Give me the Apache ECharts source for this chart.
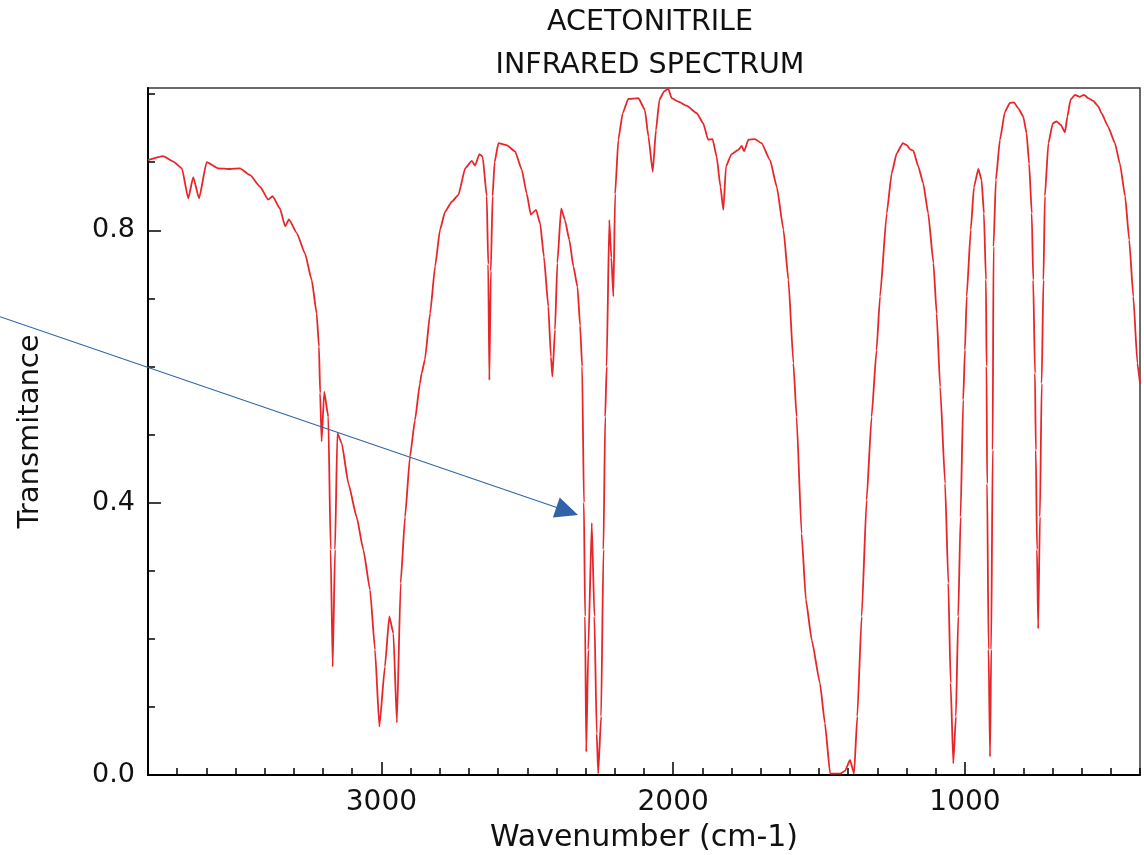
<!DOCTYPE html>
<html>
<head>
<meta charset="utf-8">
<script src="https://cdn.jsdelivr.net/npm/echarts@6/dist/echarts.min.js"></script>
<style>
html,body{margin:0;padding:0;background:#fff;}
#chart{width:1144px;height:855px;}
</style>
</head>
<body>
<div id="chart"></div>
<script>
// Wavenumber (cm-1) and transmittance
const wavenumbers = [3800,3748,3713,3684,3662,3645,3625,3599,3559,3519,3485,3450,3416,3388,3373,3348,3330,3317,3290,3262,3239,3222,3214,3210,3205,3196,3182,3174,3167,3159,3151,3136,3113,3085,3062,3039,3022,3007,2988,2973,2959,2947,2934,2919,2902,2885,2868,2862,2851,2833,2816,2799,2782,2759,2736,2713,2690,2679,2664,2653,2639,2634,2630,2625,2619,2612,2599,2571,2542,2519,2502,2488,2470,2456,2443,2428,2419,2414,2405,2397,2384,2371,2356,2342,2328,2319,2312,2306,2302,2298,2291,2279,2270,2262,2257,2247,2239,2233,2228,2219,2212,2205,2199,2188,2173,2154,2119,2097,2085,2070,2059,2047,2031,2017,2005,1982,1954,1919,1897,1880,1865,1851,1838,1828,1819,1800,1777,1765,1757,1742,1720,1697,1668,1645,1622,1605,1588,1577,1560,1545,1525,1497,1480,1462,1428,1411,1394,1380,1369,1354,1337,1320,1303,1291,1268,1251,1234,1213,1199,1188,1177,1160,1143,1126,1108,1097,1085,1068,1057,1049,1040,1031,1023,1015,1006,1000,994,980,969,954,943,935,928,926,924,919,914,910,905,902,894,880,863,846,832,817,800,789,780,771,766,760,757,753,749,743,737,731,726,714,699,686,672,657,649,638,623,606,592,577,560,543,532,509,486,469,451,437,423,409,400];
const transmittance = [0.903,0.909,0.901,0.891,0.847,0.878,0.847,0.900,0.891,0.890,0.891,0.881,0.864,0.845,0.850,0.832,0.806,0.816,0.796,0.766,0.727,0.678,0.629,0.561,0.490,0.563,0.526,0.331,0.159,0.331,0.502,0.487,0.428,0.379,0.331,0.272,0.184,0.071,0.159,0.233,0.208,0.077,0.282,0.379,0.468,0.521,0.575,0.590,0.610,0.678,0.747,0.801,0.827,0.842,0.852,0.891,0.902,0.895,0.912,0.908,0.850,0.750,0.580,0.740,0.850,0.900,0.928,0.925,0.916,0.889,0.854,0.823,0.830,0.810,0.761,0.688,0.614,0.585,0.654,0.752,0.832,0.815,0.786,0.747,0.717,0.660,0.600,0.400,0.233,0.034,0.184,0.370,0.233,0.061,0.002,0.086,0.331,0.526,0.600,0.815,0.760,0.703,0.853,0.933,0.972,0.993,0.994,0.977,0.938,0.886,0.947,0.992,1.004,1.008,0.994,0.989,0.983,0.972,0.957,0.933,0.934,0.908,0.864,0.830,0.894,0.912,0.918,0.924,0.916,0.933,0.934,0.928,0.903,0.864,0.801,0.727,0.605,0.526,0.355,0.257,0.198,0.135,0.076,0.002,0.002,0.006,0.022,0.002,0.086,0.233,0.404,0.526,0.624,0.703,0.825,0.884,0.913,0.928,0.925,0.919,0.917,0.894,0.869,0.825,0.752,0.678,0.570,0.428,0.282,0.135,0.017,0.086,0.233,0.379,0.551,0.624,0.703,0.801,0.864,0.890,0.874,0.825,0.727,0.600,0.428,0.184,0.027,0.184,0.477,0.776,0.874,0.933,0.974,0.987,0.988,0.979,0.967,0.943,0.898,0.825,0.727,0.590,0.477,0.331,0.215,0.379,0.575,0.727,0.850,0.928,0.957,0.960,0.955,0.944,0.967,0.992,0.999,0.996,0.999,0.994,0.990,0.982,0.972,0.952,0.928,0.898,0.850,0.786,0.703,0.605,0.575];

const xMajorTicks = [1000, 2000, 3000];
const yMajorTicks = [0, 0.4, 0.8];
const yMinorTicks = [0, 0.1, 0.2, 0.3, 0.4, 0.5, 0.6, 0.7, 0.8, 0.9, 1.0];
const titleLines = ['ACETONITRILE', 'INFRARED SPECTRUM'];
const xName = 'Wavenumber (cm-1)';
const yName = 'Transmitance';
// annotation arrow, in data coordinates [wavenumber, transmittance]
const arrowFrom = [4307, 0.673];
const arrowTo = [2326, 0.382];

const FONT = 'DejaVu Sans';
const X_MIN = 400, X_MAX = 3800, Y_MIN = 0, Y_MAX = 1.009;

const chart = echarts.init(document.getElementById('chart'), null, {renderer: 'canvas'});
const seriesData = wavenumbers.map((w, i) => [w, transmittance[i]]);

const option = {
  animation: false,
  backgroundColor: '#ffffff',
  title: {
    text: titleLines.join('\n'),
    left: 645,
    top: -4,
    textAlign: 'center',
    textStyle: {fontFamily: FONT, fontSize: 28.5, fontWeight: 'normal', color: '#111', lineHeight: 43}
  },
  grid: {left: 148, right: 4, top: 88, bottom: 80, containLabel: false, outerBoundsMode: 'none',
    show: true, borderColor: '#3a3a3a', borderWidth: 1.5, backgroundColor: 'transparent'},
  xAxis: [{
    type: 'value', inverse: true, min: X_MIN, max: X_MAX, position: 'bottom',
    name: xName, nameLocation: 'middle', nameGap: 48,
    nameTextStyle: {fontFamily: FONT, fontSize: 30, color: '#111'},
    axisLine: {show: true, lineStyle: {color: '#000', width: 2}},
    axisTick: {show: true, inside: true, length: 13, customValues: xMajorTicks, lineStyle: {color: '#000', width: 1.5}},
    axisLabel: {show: true, customValues: xMajorTicks, margin: 14, fontFamily: FONT, fontSize: 28, color: '#111',
      formatter: v => String(Math.round(v))},
    splitLine: {show: false}
  }, {
    type: 'value', inverse: true, min: X_MIN, max: X_MAX, interval: 100, position: 'bottom', offset: 0,
    axisLine: {show: false},
    axisTick: {show: true, inside: true, length: 7, lineStyle: {color: '#000', width: 1.5}},
    axisLabel: {show: false},
    splitLine: {show: false}
  }],
  yAxis: [{
    type: 'value', min: Y_MIN, max: Y_MAX, position: 'left',
    name: yName, nameLocation: 'middle', nameGap: 103, nameRotate: 90,
    nameTextStyle: {fontFamily: FONT, fontSize: 29, color: '#111'},
    axisLine: {show: true, lineStyle: {color: '#000', width: 2}},
    axisTick: {show: true, inside: true, length: 13, customValues: yMajorTicks, lineStyle: {color: '#000', width: 1.5}},
    axisLabel: {show: true, customValues: yMajorTicks, margin: 13, fontFamily: FONT, fontSize: 27, color: '#111',
      formatter: v => v.toFixed(1)},
    splitLine: {show: false}
  }, {
    type: 'value', min: Y_MIN, max: Y_MAX, position: 'left', offset: 0,
    axisLine: {show: false},
    axisTick: {show: true, inside: true, length: 7, customValues: yMinorTicks, lineStyle: {color: '#000', width: 1.5}},
    axisLabel: {show: false},
    splitLine: {show: false}
  }],
  series: [{
    type: 'line',
    xAxisIndex: 0, yAxisIndex: 0,
    data: seriesData,
    showSymbol: false,
    smooth: 0.15,
    smoothMonotone: 'x',
    clip: true,
    lineStyle: {color: '#e8262a', width: 1.8},
    silent: true
  }]
};
chart.setOption(option);

// Annotation arrow placed through the chart's own scales
const p0 = chart.convertToPixel({gridIndex: 0}, arrowFrom);
const p1 = chart.convertToPixel({gridIndex: 0}, arrowTo);
const dx = p1[0] - p0[0], dy = p1[1] - p0[1];
const len = Math.sqrt(dx * dx + dy * dy);
const ux = dx / len, uy = dy / len;
const headLen = 23, headHalf = 10.5;
const bx = p1[0] - ux * headLen, by = p1[1] - uy * headLen;
chart.setOption({
  graphic: [{
    type: 'line', z: 100,
    shape: {x1: p0[0], y1: p0[1], x2: bx + ux * 2, y2: by + uy * 2},
    style: {stroke: '#3063a8', lineWidth: 1.1}
  }, {
    type: 'polygon', z: 100,
    shape: {points: [[p1[0], p1[1]], [bx - uy * headHalf, by + ux * headHalf], [bx + uy * headHalf, by - ux * headHalf]]},
    style: {fill: '#3063a8'}
  }]
});
</script>
</body>
</html>
